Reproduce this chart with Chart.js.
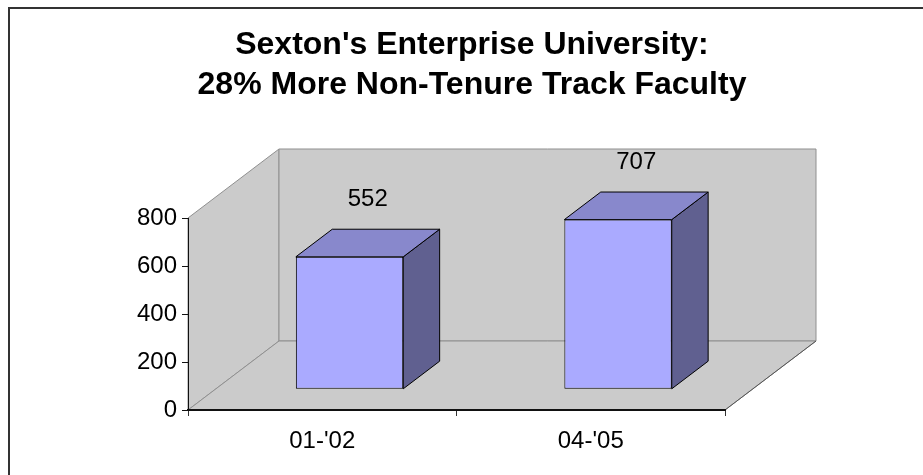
<!DOCTYPE html>
<html>
<head>
<meta charset="utf-8">
<title>Sexton's Enterprise University</title>
<script src="https://cdn.jsdelivr.net/npm/chart.js@4.4.0/dist/chart.umd.min.js"></script>
<style>
  html, body { margin: 0; padding: 0; background: #fff; }
  #wrap { width: 923px; height: 475px; }
</style>
</head>
<body>
<div id="wrap"><canvas id="chart" width="923" height="475"></canvas></div>
<script>
// chart data
const titleLines = ["Sexton's Enterprise University:", "28% More Non-Tenure Track Faculty"];
const categories = ["01-'02", "04-'05"];
const faculty = [552, 707];
const yTicks = [0, 200, 400, 600, 800];

const FONT = "'Liberation Sans', Arial, Helvetica, sans-serif";
// fake 3D: depth of the floor in px, bars sit between 30% and 70% of it
const depth = { x: 91, y: -69 };
const barFront = 0.3;
const barDepth = 0.4;

function poly(ctx, pts) {
    ctx.beginPath();
    ctx.moveTo(pts[0][0], pts[0][1]);
    for (let i = 1; i < pts.length; i++) ctx.lineTo(pts[i][0], pts[i][1]);
    ctx.closePath();
}

const wallPlugin = {
    id: 'walls',
    beforeDraw(chart) {
        const ctx = chart.ctx;
        const xs = chart.scales.x, ys = chart.scales.y;
        const L = xs.left, R = xs.right;
        const B = ys.getPixelForValue(yTicks[0]);
        const T = ys.getPixelForValue(yTicks[yTicks.length - 1]);
        const dx = depth.x, dy = depth.y;

        ctx.save();
        ctx.fillStyle = '#cbcbcb';
        ctx.strokeStyle = '#8f8f8f';
        ctx.lineWidth = 1;
        // left side wall
        poly(ctx, [[L, B], [L, T], [L + dx, T + dy], [L + dx, B + dy]]);
        ctx.fill(); ctx.stroke();
        // back wall
        poly(ctx, [[L + dx, B + dy], [L + dx, T + dy], [R + dx, T + dy], [R + dx, B + dy]]);
        ctx.fill(); ctx.stroke();
        // floor
        poly(ctx, [[L, B], [R, B], [R + dx, B + dy], [L + dx, B + dy]]);
        ctx.fill(); ctx.stroke();
        ctx.strokeStyle = '#555';
        ctx.beginPath();
        ctx.moveTo(R, B);
        ctx.lineTo(R + dx, B + dy);
        ctx.stroke();
        ctx.restore();
    },
    beforeDatasetsDraw(chart) {
        chart.ctx.save();
        chart.ctx.translate(depth.x * barFront, depth.y * barFront);
    },
    afterDatasetsDraw(chart) {
        const ctx = chart.ctx;
        ctx.restore();
        const ox = depth.x * barFront, oy = depth.y * barFront;
        const bx = depth.x * barDepth, by = depth.y * barDepth;
        const meta = chart.getDatasetMeta(0);

        ctx.save();
        ctx.lineWidth = 1;
        ctx.strokeStyle = '#000';
        meta.data.forEach((bar) => {
            const p = bar.getProps(['x', 'y', 'base', 'width'], true);
            const x0 = p.x - p.width / 2 + ox, x1 = p.x + p.width / 2 + ox;
            const top = p.y + oy, base = p.base + oy;
            // right side
            ctx.fillStyle = '#606090';
            poly(ctx, [[x1, top], [x1 + bx, top + by], [x1 + bx, base + by], [x1, base]]);
            ctx.fill(); ctx.stroke();
            // top
            ctx.fillStyle = '#8888cc';
            poly(ctx, [[x0, top], [x0 + bx, top + by], [x1 + bx, top + by], [x1, top]]);
            ctx.fill(); ctx.stroke();
        });

        // value labels above the bars
        ctx.fillStyle = '#000';
        ctx.font = '24px ' + FONT;
        ctx.textAlign = 'center';
        ctx.textBaseline = 'middle';
        meta.data.forEach((bar, i) => {
            const p = bar.getProps(['x', 'y'], true);
            ctx.fillText(String(faculty[i]), p.x + ox + bx / 2, p.y + oy + by - 30);
        });
        ctx.restore();
    },
    afterDraw(chart) {
        const ctx = chart.ctx;
        ctx.save();
        // title
        ctx.fillStyle = '#000';
        ctx.font = 'bold 32px ' + FONT;
        ctx.textAlign = 'center';
        ctx.textBaseline = 'alphabetic';
        titleLines.forEach((line, i) => {
            ctx.fillText(line, 472, 54 + i * 40);
        });
        // outer frame (runs off the right and bottom edge)
        ctx.strokeStyle = '#333';
        ctx.lineWidth = 2;
        ctx.strokeRect(9, 8, 940, 500);
        ctx.restore();
    }
};

const ctx = document.getElementById('chart');
new Chart(ctx, {
    type: 'bar',
    data: {
        labels: categories,
        datasets: [{
            data: faculty,
            backgroundColor: '#aaaaff',
            borderColor: '#000',
            borderWidth: 1,
            borderSkipped: false,
            barPercentage: 0.4,
            categoryPercentage: 1.0,
            clip: false
        }]
    },
    options: {
        responsive: false,
        animation: false,
        events: [],
        layout: {
            padding: { top: 218, left: 128, right: 198, bottom: 20 }
        },
        plugins: {
            legend: { display: false },
            title: { display: false },
            tooltip: { enabled: false }
        },
        scales: {
            x: {
                afterFit(scale) { scale.height = 45; },
                border: { display: true, color: '#111', width: 2 },
                grid: { drawOnChartArea: false, drawTicks: true, tickLength: 6, color: '#333' },
                ticks: { color: '#000', padding: 11, font: { family: FONT, size: 24 } }
            },
            y: {
                min: yTicks[0],
                max: yTicks[yTicks.length - 1],
                afterFit(scale) { scale.width = 60; },
                afterBuildTicks(scale) { scale.ticks = yTicks.map(v => ({ value: v })); },
                border: { display: true, color: '#111', width: 1 },
                grid: { drawOnChartArea: false, drawTicks: true, tickLength: 6, color: '#111' },
                ticks: { color: '#000', padding: 5, font: { family: FONT, size: 24 } }
            }
        }
    },
    plugins: [wallPlugin]
});
</script>
</body>
</html>
